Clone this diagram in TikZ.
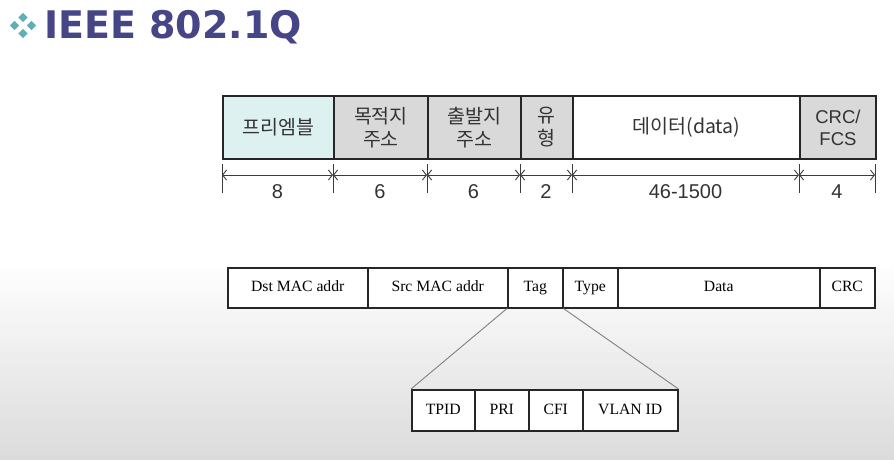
\documentclass[tikz,border=0pt]{standalone}
\usepackage{fontspec}
\setmainfont{Liberation Serif}
\newfontfamily\kor{Noto Sans CJK KR}
\newfontfamily\titlefont{DejaVu Sans}
\newfontfamily\arialf{Liberation Sans}
\usetikzlibrary{arrows.meta,shadings}
\definecolor{titleblue}{RGB}{70,70,135}
\definecolor{teal1}{RGB}{95,175,185}
\definecolor{pre}{RGB}{222,241,241}
\definecolor{grayf}{RGB}{217,217,217}
\definecolor{dimc}{RGB}{60,60,60}
\tikzset{
  topbox/.style={draw=black!85, line width=1.9pt, anchor=north west, minimum height=63pt, inner sep=0pt, font=\kor\fontsize{19.5}{23}\selectfont, align=center, text=black!80},
  botbox/.style={draw=black!85, line width=1.5pt, anchor=north west, minimum height=40pt, inner sep=0pt, font=\fontsize{15.7}{18}\selectfont, fill=white, text height=11pt, text depth=3.5pt},
  subbox/.style={draw=black!85, line width=1.5pt, anchor=north west, minimum height=41pt, inner sep=0pt, font=\fontsize{15.7}{18}\selectfont, fill=white, text height=11pt, text depth=3.5pt},
  dimline/.style={draw=dimc, line width=0.9pt, {Straight Barb[length=4pt,width=10pt]}-{Straight Barb[length=4pt,width=10pt]}},
  tickline/.style={draw=dimc, line width=0.9pt},
  numlbl/.style={font=\arialf\fontsize{20}{22}\selectfont, text=black!80},
  zoomline/.style={draw=gray, line width=0.9pt},
  dia/.style={fill=teal1, draw=none},
}
\begin{document}
\begin{tikzpicture}[x=1pt,y=-1pt]
\useasboundingbox (0,0) rectangle (894,459);
\fill[white] (0,0) rectangle (894,459);
\shade[top color=white, bottom color=black!14] (0,260) rectangle (894,459);
% title icon
\foreach \cx/\cy in {14.5/25.5, 23/17.5, 31.5/25.5, 23/33.5}{
  \fill[dia] (\cx-4.6,\cy) -- (\cx,\cy-4.6) -- (\cx+4.6,\cy) -- (\cx,\cy+4.6) -- cycle;
}
\node[anchor=west, text=titleblue, font=\titlefont\bfseries\fontsize{38}{42}\selectfont, inner sep=0pt] (title) at (44,27) {IEEE 802.1Q};
% top frame
\node[topbox, fill=pre, minimum width=111pt] (pre) at (222,95) {프리엠블};
\node[topbox, fill=grayf, minimum width=94pt] (dst) at (333,95) {목적지\\주소};
\node[topbox, fill=grayf, minimum width=93pt] (src) at (427,95) {출발지\\주소};
\node[topbox, fill=grayf, minimum width=52pt] (typ) at (520,95) {유\\형};
\node[topbox, fill=white, minimum width=227pt] (dat) at (572,95) {데이터(data)};
\node[topbox, fill=grayf, minimum width=76pt, font=\arialf\fontsize{18.5}{22}\selectfont] (crc) at (799,95) {CRC/\\FCS};
% ticks and dimension lines
\foreach \i/\x in {0/222,1/333,2/427,3/520,4/572,5/799,6/875}{
  \coordinate (tt\i) at (\x,164);
  \coordinate (tb\i) at (\x,193);
  \coordinate (a\i) at (\x,175);
  \draw[tickline] (tt\i) -- (tb\i);
}
\foreach \i/\j in {0/1,1/2,2/3,3/4,4/5,5/6}{
  \draw[dimline] (a\i) -- (a\j);
}
\node[numlbl] (n0) at (277.5,192) {8};
\node[numlbl] (n1) at (380,192) {6};
\node[numlbl] (n2) at (473.5,192) {6};
\node[numlbl] (n3) at (546,192) {2};
\node[numlbl] (n4) at (685.5,192) {46-1500};
\node[numlbl] (n5) at (837,192) {4};
% 802.1Q frame
\node[botbox, minimum width=140pt] (bdst) at (227,267) {Dst MAC addr};
\node[botbox, minimum width=140pt] (bsrc) at (367,267) {Src MAC addr};
\node[botbox, minimum width=55pt] (btag) at (507,267) {Tag};
\node[botbox, minimum width=55pt] (btyp) at (562,267) {Type};
\node[botbox, minimum width=202pt] (bdat) at (617,267) {Data};
\node[botbox, minimum width=55pt] (bcrc) at (819,267) {CRC};
% tag detail
\node[subbox, minimum width=63pt] (tpid) at (411,389) {TPID};
\node[subbox, minimum width=54pt] (pri) at (474,389) {PRI};
\node[subbox, minimum width=54pt] (cfi) at (528,389) {CFI};
\node[subbox, minimum width=95pt] (vid) at (582,389) {VLAN ID};
\draw[zoomline] (btag.south west) -- (tpid.north west);
\draw[zoomline] (btag.south east) -- (vid.north east);
\end{tikzpicture}
\end{document}
